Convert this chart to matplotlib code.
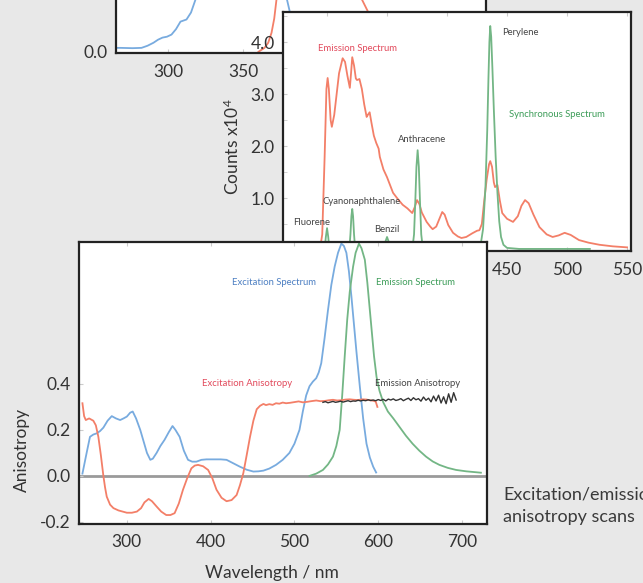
import numpy as np
import matplotlib
matplotlib.use('Agg')
import matplotlib.pyplot as plt

plt.rcParams['font.family'] = ['Lato', 'DejaVu Sans']
plt.rcParams['axes.unicode_minus'] = False
plt.rcParams['mathtext.default'] = 'regular'

W, H = 643, 583
BG = '#e8e8e8'
BLUE = '#78abdf'
RED = '#f37f68'
GREEN = '#73b685'
DARK = '#333333'

# --- top panel (mostly hidden) ---
top_exc_wl = [262, 268, 276, 282, 286, 290, 293, 296, 299, 302, 305, 308, 312, 315, 318, 325, 340,
              350, 362, 372, 379, 381, 385, 392]
top_exc = [0.013, 0.013, 0.012, 0.013, 0.02, 0.03, 0.04, 0.047, 0.05, 0.057, 0.075, 0.1, 0.107, 0.13,
           0.173, 0.4, 0.8, 0.95, 0.8, 0.45, 0.173, 0.13, 0.05, 0.01]
top_em_wl = [360, 364, 366.5, 368.7, 370.5, 372, 380, 400, 415, 429, 433, 440]
top_em = [0.0, 0.013, 0.03, 0.063, 0.11, 0.173, 0.6, 0.95, 0.7, 0.173, 0.133, 0.05]

# --- synchronous scan panel ---
em_wl = [294, 296, 298, 299.5, 300.5, 301.5, 303, 304, 306, 308, 310, 313, 315, 317, 319, 320, 321,
         322.5, 324, 325, 327, 329, 331, 333, 334, 335.5, 337, 339, 341, 343, 344, 347, 350, 353,
         355, 359, 363, 367, 371, 373, 375, 377, 379, 383, 386, 388, 391, 394, 396, 398, 401, 405,
         409, 412, 416, 421, 425, 427, 429, 431, 433, 435, 436, 437.5, 439, 440, 442, 444, 446,
         450, 455, 459, 462, 465, 468, 472, 477, 483, 488, 493, 498, 503, 510, 518, 527, 538, 550]
em_counts = [0.0, 0.3, 1.8, 3.1, 3.31, 3.1, 2.5, 2.37, 2.6, 3.0, 3.4, 3.69, 3.62, 3.35, 3.12, 3.4,
             3.71, 3.55, 3.3, 3.27, 3.29, 3.1, 2.8, 2.56, 2.6, 2.65, 2.45, 2.2, 2.06, 1.95, 1.79,
             1.55, 1.4, 1.22, 1.10, 0.98, 0.87, 0.8, 0.71, 0.82, 0.96, 0.88, 0.72, 0.54, 0.45, 0.40,
             0.45, 0.62, 0.73, 0.68, 0.48, 0.33, 0.26, 0.23, 0.25, 0.32, 0.37, 0.38, 0.5, 0.95,
             1.35, 1.65, 1.71, 1.6, 1.3, 1.21, 1.25, 0.95, 0.71, 0.6, 0.54, 0.65, 0.85, 0.96, 0.9,
             0.68, 0.44, 0.3, 0.25, 0.28, 0.33, 0.29, 0.19, 0.14, 0.10, 0.07, 0.05]

sync_wl = [290, 298, 299, 300, 301, 302, 318.5, 319.5, 320.3, 321, 321.7, 322.5, 323.5, 347, 348.5,
           350, 351.5, 353, 371, 372.5, 373.5, 374.5, 375.5, 376.5, 377.5, 378.5, 380, 425, 428,
           430, 432, 433.5, 434.5, 435.3, 436, 436.8, 437.8, 439, 440.5, 442, 443.5, 445, 447,
           450, 460, 480, 500, 519]
sync_counts = [0.0, 0.0, 0.25, 0.42, 0.25, 0.0, 0.0, 0.3, 0.65, 0.79, 0.65, 0.3, 0.0, 0.0, 0.15,
               0.25, 0.15, 0.0, 0.0, 0.3, 0.9, 1.6, 1.92, 1.6, 0.9, 0.3, 0.0, 0.0, 0.1, 0.4, 1.2,
               2.3, 3.3, 4.0, 4.31, 4.1, 3.5, 2.7, 1.8, 1.1, 0.55, 0.25, 0.1, 0.04, 0.02, 0.02,
               0.02, 0.02]

# --- anisotropy panel ---
exc_wl = [247, 252, 256, 260, 264, 268, 272, 277, 282, 287, 292, 296, 300, 304, 307, 311, 316, 320,
          324, 328, 331, 335.5, 340, 345, 350, 354.5, 358, 363, 368, 373, 378, 383, 389, 395, 405,
          412, 419, 427, 435, 443, 451, 457, 463, 470, 478, 486, 494, 500, 506, 510, 514, 518, 522,
          526, 529, 532, 536, 540, 544, 548, 552, 556, 559, 562, 565, 568, 571, 574, 578, 582, 586,
          590, 594, 597.5]
exc_spec = [0.01, 0.1, 0.17, 0.18, 0.185, 0.195, 0.21, 0.24, 0.26, 0.25, 0.243, 0.25, 0.258, 0.275,
            0.28, 0.25, 0.2, 0.15, 0.1, 0.07, 0.075, 0.1, 0.13, 0.157, 0.19, 0.217, 0.2, 0.17,
            0.11, 0.07, 0.062, 0.062, 0.07, 0.072, 0.072, 0.072, 0.07, 0.055, 0.04, 0.027, 0.019,
            0.02, 0.023, 0.032, 0.048, 0.07, 0.1, 0.14, 0.2, 0.28, 0.35, 0.39, 0.41, 0.425, 0.45,
            0.49, 0.6, 0.72, 0.83, 0.91, 0.97, 1.01, 1.0, 0.97, 0.89, 0.78, 0.66, 0.54, 0.39, 0.25,
            0.14, 0.08, 0.04, 0.015]

emi_wl = [518, 526, 534, 540, 546, 550, 554, 557, 560, 563, 566, 570, 573, 577, 580, 584, 587, 589.5,
          591.5, 595, 598, 601.5, 606, 611.5, 618, 625, 633, 641, 649, 657, 665, 673, 683, 693, 705,
          722.5]
emi_spec = [0.0, 0.01, 0.026, 0.05, 0.084, 0.13, 0.2, 0.35, 0.52, 0.68, 0.8, 0.91, 0.97, 1.01, 0.99,
            0.94, 0.84, 0.74, 0.66, 0.52, 0.43, 0.37, 0.32, 0.28, 0.25, 0.215, 0.175, 0.14, 0.11,
            0.084, 0.063, 0.048, 0.035, 0.026, 0.02, 0.014]

exc_an_wl = [247, 249, 251, 255, 260, 263, 266, 269, 272, 274, 276, 280, 284, 290, 300, 306, 312,
             317, 321, 326, 330, 335.5, 341, 347, 352, 357, 362, 367, 372, 377, 381, 385, 391, 397,
             402, 407, 413, 419, 425, 431, 435, 439, 443, 447, 451, 455, 459, 463, 466, 470, 474,
             478, 482, 486, 490, 495, 500, 505, 510, 515, 520, 526, 531, 536, 541, 546, 551, 556,
             561, 566, 571, 576, 581, 586, 590, 594, 597, 599]
exc_aniso = [0.316, 0.26, 0.243, 0.25, 0.24, 0.22, 0.17, 0.09, 0.0, -0.05, -0.09, -0.125, -0.14,
             -0.15, -0.16, -0.16, -0.155, -0.14, -0.115, -0.1, -0.11, -0.133, -0.155, -0.17, -0.17,
             -0.162, -0.12, -0.06, -0.01, 0.033, 0.045, 0.048, 0.042, 0.026, -0.01, -0.06, -0.095,
             -0.11, -0.105, -0.083, -0.04, 0.012, 0.09, 0.17, 0.24, 0.29, 0.305, 0.313, 0.308,
             0.312, 0.309, 0.316, 0.314, 0.319, 0.316, 0.318, 0.321, 0.324, 0.320, 0.322, 0.325,
             0.328, 0.325, 0.326, 0.329, 0.331, 0.328, 0.329, 0.332, 0.333, 0.331, 0.330, 0.333,
             0.332, 0.329, 0.327, 0.323, 0.30]

emi_an_wl = np.arange(534, 696, 3)
emi_aniso = [0.320, 0.323, 0.318, 0.321, 0.324, 0.320, 0.322, 0.325, 0.321, 0.324, 0.327, 0.323,
             0.326, 0.325, 0.329, 0.326, 0.329, 0.327, 0.331, 0.328, 0.330, 0.327, 0.332, 0.328,
             0.333, 0.326, 0.334, 0.330, 0.335, 0.328, 0.331, 0.336, 0.327, 0.333, 0.338, 0.328,
             0.340, 0.331, 0.336, 0.325, 0.343, 0.329, 0.338, 0.322, 0.347, 0.326, 0.351, 0.317,
             0.344, 0.314, 0.357, 0.320, 0.362, 0.330]


def make_axes(fig, left, top, right, bottom, z):
  ax = fig.add_axes([left / W, 1 - bottom / H, (right - left) / W, (bottom - top) / H])
  ax.set_zorder(z)
  ax.set_facecolor('white')
  for s in ax.spines.values():
    s.set_linewidth(1.6)
    s.set_color('#222222')
  ax.tick_params(direction='in', length=3, color='#cccccc', labelcolor=DARK, labelsize=12.5,
                 top=True, right=False)
  return ax


fig = plt.figure(figsize=(W / 100, H / 100), dpi=100)
fig.patch.set_facecolor(BG)

# top panel
ax1 = make_axes(fig, 116, -250, 486, 53, 1)
ax1.plot(top_exc_wl, top_exc, color=BLUE, lw=1.3)
ax1.plot(top_em_wl, top_em, color=RED, lw=1.3)
ax1.set_xlim(265, 511.7)
ax1.set_ylim(-0.004, 1.0)
ax1.set_xticks([300, 350, 400, 450, 500])
ax1.set_yticks([0.0])
ax1.set_yticklabels(['0.0'])
ax1.tick_params(axis='x', pad=8)
ax1.tick_params(axis='y', pad=6)

# synchronous panel
ax2 = make_axes(fig, 283, 12, 631, 251, 2)
ax2.plot(em_wl, em_counts, color=RED, lw=1.3)
ax2.plot(sync_wl, sync_counts, color=GREEN, lw=1.3)
ax2.set_xlim(263.3, 553.3)
ax2.set_ylim(-0.02, 4.58)
ax2.set_xticks([300, 350, 400, 450, 500, 550])
ax2.set_yticks([1, 2, 3, 4])
ax2.set_yticklabels(['1.0', '2.0', '3.0', '4.0'])
ax2.set_yticks(np.arange(0.5, 4.6, 0.5), minor=True)
ax2.tick_params(which='minor', direction='in', length=3, color='#cccccc')
ax2.tick_params(axis='x', pad=8)
ax2.tick_params(axis='y', pad=6)
small = dict(fontsize=6.8, ha='center', va='center')
ax2.text(325, 3.88, 'Emission Spectrum', color='#e24a5c', **small)
ax2.text(491.6, 2.6, 'Synchronous Spectrum', color='#3d9d59', **small)
ax2.text(460.8, 4.19, 'Perylene', color='#444444', **small)
ax2.text(379.1, 2.13, 'Anthracene', color='#444444', **small)
ax2.text(329.1, 0.94, 'Cyanonaphthalene', color='#444444', **small)
ax2.text(287.5, 0.52, 'Fluorene', color='#444444', **small)
ax2.text(350, 0.40, 'Benzil', color='#444444', **small)
fig.text(232 / W, 1 - 147 / H, 'Counts x10$^4$', rotation=90, fontsize=12.5, color=DARK,
         ha='center', va='center')

# anisotropy panel
ax3 = make_axes(fig, 79, 242, 487, 524, 3)
ax3.axhline(0, color='#9a9a9a', lw=2, zorder=1)
ax3.plot(exc_wl, exc_spec, color=BLUE, lw=1.3)
ax3.plot(emi_wl, emi_spec, color=GREEN, lw=1.3)
ax3.plot(exc_an_wl, exc_aniso, color=RED, lw=1.3)
ax3.plot(emi_an_wl, emi_aniso, color=DARK, lw=1.0)
ax3.set_xlim(242.9, 729.8)
ax3.set_ylim(-0.209, 1.017)
ax3.set_xticks([300, 400, 500, 600, 700])
ax3.set_yticks([-0.2, 0.0, 0.2, 0.4])
ax3.set_yticklabels(['-0.2', '0.0', '0.2', '0.4'])
ax3.tick_params(axis='x', pad=7)
ax3.tick_params(axis='y', pad=6)
ax3.text(476, 0.84, 'Excitation Spectrum', color='#4c7fc2', **small)
ax3.text(645, 0.84, 'Emission Spectrum', color='#3d9d59', **small)
ax3.text(444, 0.40, 'Excitation Anisotropy', color='#e24a5c', **small)
ax3.text(646.6, 0.40, 'Emission Anisotropy', color='#444444', **small)
fig.text(22 / W, 1 - 450 / H, 'Anisotropy', rotation=90, fontsize=12.5, color=DARK,
         ha='center', va='center')
fig.text(272 / W, 1 - 573 / H, 'Wavelength / nm', fontsize=12.5, color=DARK,
         ha='center', va='center')

# caption (runs off the right edge in the original)
fig.text(503 / W, 1 - 495 / H, 'Excitation/emission', fontsize=13, color='#3a3a3a',
         ha='left', va='center')
fig.text(503 / W, 1 - 517 / H, 'anisotropy scans', fontsize=13, color='#3a3a3a',
         ha='left', va='center')

fig.savefig('out.png', dpi=100, facecolor=BG)
